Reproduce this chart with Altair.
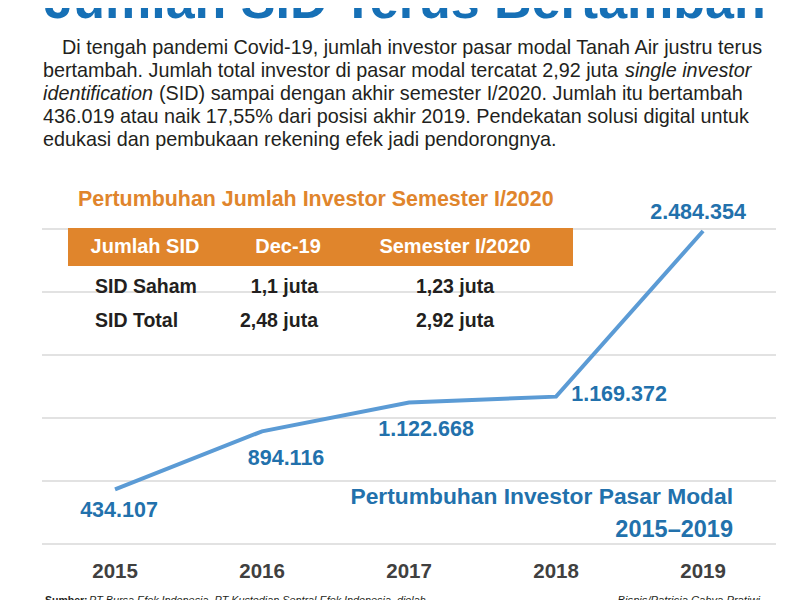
import altair as alt
import pandas as pd

# ---------------- data ----------------
years = [2015, 2016, 2017, 2018, 2019]
investors = [434107, 894116, 1122668, 1169372, 2484354]
value_labels = ["434.107", "894.116", "1.122.668", "1.169.372", "2.484.354"]
grid_values = [0, 500000, 1000000, 1500000, 2000000, 2500000]

title_text = "Jumlah SID Terus Bertambah"
para_lines = [
    "Di tengah pandemi Covid-19, jumlah investor pasar modal Tanah Air justru terus",
    "bertambah. Jumlah total investor di pasar modal tercatat 2,92 juta",
    "single investor",
    "identification",
    "(SID) sampai dengan akhir semester I/2020. Jumlah itu bertambah",
    "436.019 atau naik 17,55% dari posisi akhir 2019. Pendekatan solusi digital untuk",
    "edukasi dan pembukaan rekening efek jadi pendorongnya.",
]
table_title = "Pertumbuhan Jumlah Investor Semester I/2020"
table_header = ["Jumlah SID", "Dec-19", "Semester I/2020"]
table_rows = ["SID Saham", "SID Total"]
dec19 = ["1,1 juta", "2,48 juta"]
sem2020 = ["1,23 juta", "2,92 juta"]
chart_title = ["Pertumbuhan Investor Pasar Modal", "2015\u20132019"]
source_label = "Sumber:"
source_text = "PT Bursa Efek Indonesia, PT Kustodian Sentral Efek Indonesia, diolah"
credit_text = "Bisnis/Patricia Cahya Pratiwi"

# ---------------- styles ----------------
W, H = 784, 592
FONT = "Liberation Sans, Arial, sans-serif"
BLUE_T = "#1670B6"
BLUE_L = "#5B9BD5"
BLUE_N = "#2271AC"
ORANGE = "#E0852C"
DARK = "#231F20"
GRAY = "#404040"

df = pd.DataFrame({"year": years, "value": investors, "label": value_labels})
grid_df = pd.DataFrame({"g": grid_values})

xs = alt.Scale(domain=[2014.272, 2019.605], range=[0, W], nice=False, zero=False)
ys = alt.Scale(domain=[-444444, 4253968], range=[H, 0], nice=False, zero=False)
X = alt.X("year:Q", scale=xs, axis=None)
Y = alt.Y("value:Q", scale=ys, axis=None)


def txt(text, px, py, size, color=DARK, weight="normal", align="left",
        style="normal", baseline="middle"):
    """Place a text string at page coordinates (px, py)."""
    return alt.Chart(pd.DataFrame({"t": [text]})).mark_text(
        font=FONT, fontSize=size, color=color, fontWeight=weight,
        align=align, fontStyle=style, baseline=baseline, clip=True,
    ).encode(x=alt.value(px - 8), y=alt.value(py - 8), text="t:N")


layers = []

# grid lines
layers.append(
    alt.Chart(grid_df).mark_rule(color="#D9D9D9", strokeWidth=1.5).encode(
        y=alt.Y("g:Q", scale=ys, axis=None), x=alt.value(34), x2=alt.value(768)
    )
)

# table header bar
layers.append(
    alt.Chart(pd.DataFrame({"a": [0]})).mark_rect(color=ORANGE).encode(
        x=alt.value(68 - 8), x2=alt.value(573 - 8),
        y=alt.value(228 - 8), y2=alt.value(266 - 8)
    )
)

# line
layers.append(
    alt.Chart(df).mark_line(color=BLUE_L, strokeWidth=4).encode(x=X, y=Y)
)

# value labels
offsets = {2015: (4, 22), 2016: (24, 28), 2017: (17, 27), 2018: (63, -2), 2019: (-5, -18)}
for yr in years:
    dx, dy = offsets[yr]
    layers.append(
        alt.Chart(df).transform_filter(alt.datum.year == yr).mark_text(
            font=FONT, fontSize=21.5, fontWeight="bold", color=BLUE_N,
            dx=dx, dy=dy, baseline="middle"
        ).encode(x=X, y=Y, text="label:N")
    )

# year labels
layers.append(
    alt.Chart(df).mark_text(
        font=FONT, fontSize=20.5, fontWeight="bold", color=GRAY, baseline="middle"
    ).encode(x=X, y=alt.value(572 - 8), text="year:N")
)

# main title (cut at the top)
layers.append(txt(title_text, 405, 18, 52, BLUE_T, "bold", "center",
                  baseline="alphabetic"))

# paragraph
PS = 19.8
layers.append(txt(para_lines[0], 62, 48, PS))
layers.append(txt(para_lines[1], 43, 71, PS))
layers.append(txt(para_lines[2], 625, 71, PS, style="italic"))
layers.append(txt(para_lines[3], 43, 94, PS, style="italic"))
layers.append(txt(para_lines[4], 159, 94, PS))
layers.append(txt(para_lines[5], 43, 117, PS))
layers.append(txt(para_lines[6], 43, 140, PS))

# table
layers.append(txt(table_title, 78, 200, 21.4, ORANGE, "bold"))
hx = [145, 288, 455]
for h, x in zip(table_header, hx):
    layers.append(txt(h, x, 247, 20, "white", "bold", "center"))
rows_y = [287, 321]
for r, d, s, y in zip(table_rows, dec19, sem2020, rows_y):
    layers.append(txt(r, 95, y, 19.5, DARK, "bold"))
    layers.append(txt(d, 318, y, 19.5, DARK, "bold", "right"))
    layers.append(txt(s, 494, y, 19.5, DARK, "bold", "right"))

# chart title
layers.append(txt(chart_title[0], 733, 497, 22.8, BLUE_N, "bold", "right"))
layers.append(txt(chart_title[1], 733, 530, 23.5, BLUE_N, "bold", "right"))

# footer (cut at the bottom)
layers.append(txt(source_label, 45, 604, 10.5, DARK, "bold", baseline="alphabetic"))
layers.append(txt(source_text, 89, 604, 10.8, DARK, style="italic", baseline="alphabetic"))
layers.append(txt(credit_text, 760, 604, 11.2, DARK, style="italic", align="right",
                  baseline="alphabetic"))

chart = alt.layer(*layers).properties(
    width=W, height=H, autosize=alt.AutoSizeParams(type="none"), padding=0,
    background="white"
).configure_view(stroke=None)

chart.save("out.html", embed_options={"renderer": "svg", "actions": False})
